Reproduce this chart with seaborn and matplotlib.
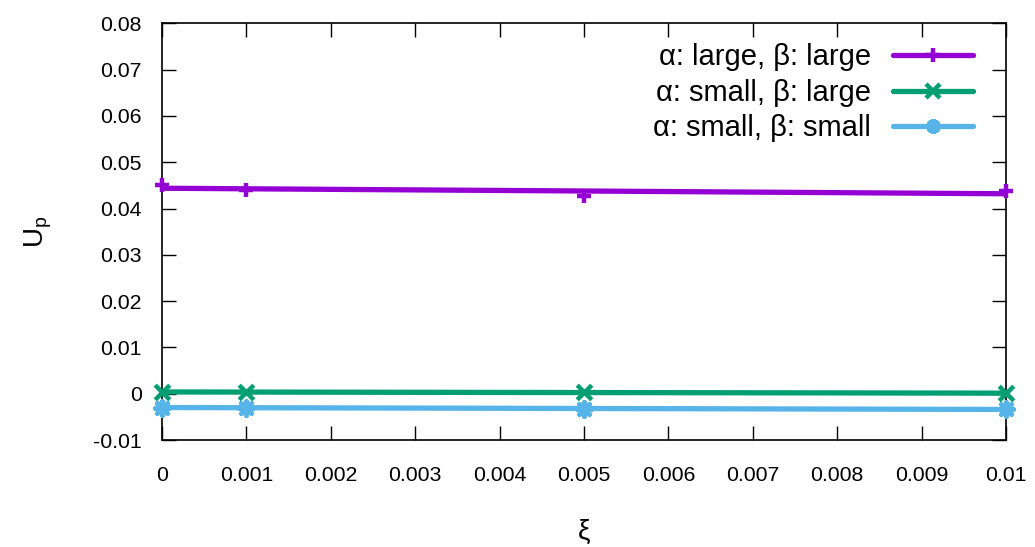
import matplotlib
matplotlib.use("Agg")
import matplotlib.pyplot as plt
from matplotlib.lines import Line2D
import seaborn as sns
import pandas as pd

# Sampled coupling strengths and the measured U_p for each parameter regime
xi = [0.0, 0.001, 0.005, 0.01]
up_large_large = [0.0451, 0.0440, 0.0428, 0.0437]
up_small_large = [0.0004, 0.0003, 0.0003, 0.0001]
up_small_small = [-0.0030, -0.0030, -0.0032, -0.0034]

series_labels = ["α: large, β: large", "α: small, β: large", "α: small, β: small"]
series_colors = ["#9400D3", "#009E73", "#56B4E9"]
series_markers = ["+", "x", (8, 2, 0)]

xtick_values = [0, 0.001, 0.002, 0.003, 0.004, 0.005, 0.006, 0.007, 0.008, 0.009, 0.01]
xtick_labels = ["0", "0.001", "0.002", "0.003", "0.004", "0.005", "0.006", "0.007", "0.008", "0.009", "0.01"]
ytick_values = [-0.01, 0, 0.01, 0.02, 0.03, 0.04, 0.05, 0.06, 0.07, 0.08]
ytick_labels = ["-0.01", "0", "0.01", "0.02", "0.03", "0.04", "0.05", "0.06", "0.07", "0.08"]

sns.set_theme(style="ticks")
plt.rcParams["font.family"] = ["Liberation Sans", "DejaVu Sans"]
plt.rcParams["mathtext.default"] = "regular"
plt.rcParams["text.color"] = "black"
plt.rcParams["axes.labelcolor"] = "black"
plt.rcParams["xtick.labelcolor"] = "black"
plt.rcParams["ytick.labelcolor"] = "black"

df = pd.DataFrame({
    "xi": xi * 3,
    "up": up_large_large + up_small_large + up_small_small,
    "regime": sum([[lab] * len(xi) for lab in series_labels], []),
})

fig = plt.figure(figsize=(10.35, 5.47), dpi=100)
ax = fig.add_axes([0.1565, 0.1956, 0.8155, 0.7618])
ax.set_xlim(0, 0.01)
ax.set_ylim(-0.01, 0.08)

handles = []
for lab, col, mk in zip(series_labels, series_colors, series_markers):
    sub = df[df["regime"] == lab]
    # linear fit across the full xi range, with the raw samples as markers
    sns.regplot(data=sub, x="xi", y="up", ax=ax, ci=None, truncate=False,
                color=col, marker=mk,
                scatter_kws={"s": 110, "linewidths": 3.2, "clip_on": False,
                             "zorder": 4, "alpha": 1},
                line_kws={"linewidth": 3.8, "zorder": 3})
    handles.append(Line2D([], [], color=col, linewidth=3.8, marker=mk,
                          markersize=10.5, markeredgewidth=3.2))

ax.set_xlim(0, 0.01)
ax.set_ylim(-0.01, 0.08)
ax.set_xticks(xtick_values)
ax.set_xticklabels(xtick_labels)
ax.set_yticks(ytick_values)
ax.set_yticklabels(ytick_labels)

ax.tick_params(axis="both", which="major", direction="in", length=10, width=1,
               labelsize=15.3, color="black", labelcolor="black",
               top=True, right=True)
ax.tick_params(axis="x", pad=19)
ax.tick_params(axis="y", pad=14.5)
for sp in ax.spines.values():
    sp.set_visible(True)
    sp.set_color("black")
    sp.set_linewidth(1.2)

ax.set_xlabel("ξ", fontsize=20, labelpad=24, color="black")
ax.set_ylabel("U$_p$", fontsize=20, labelpad=28, color="black")

leg = ax.legend(handles, series_labels, loc="upper right", bbox_to_anchor=(0.961, 0.952),
                frameon=False, markerfirst=False, numpoints=1, fontsize=21,
                handlelength=2.75, handletextpad=0.75, labelspacing=0.26,
                borderpad=0, borderaxespad=0)
for t in leg.get_texts():
    t.set_color("black")

fig.savefig("out.png", dpi=100, facecolor="white")
